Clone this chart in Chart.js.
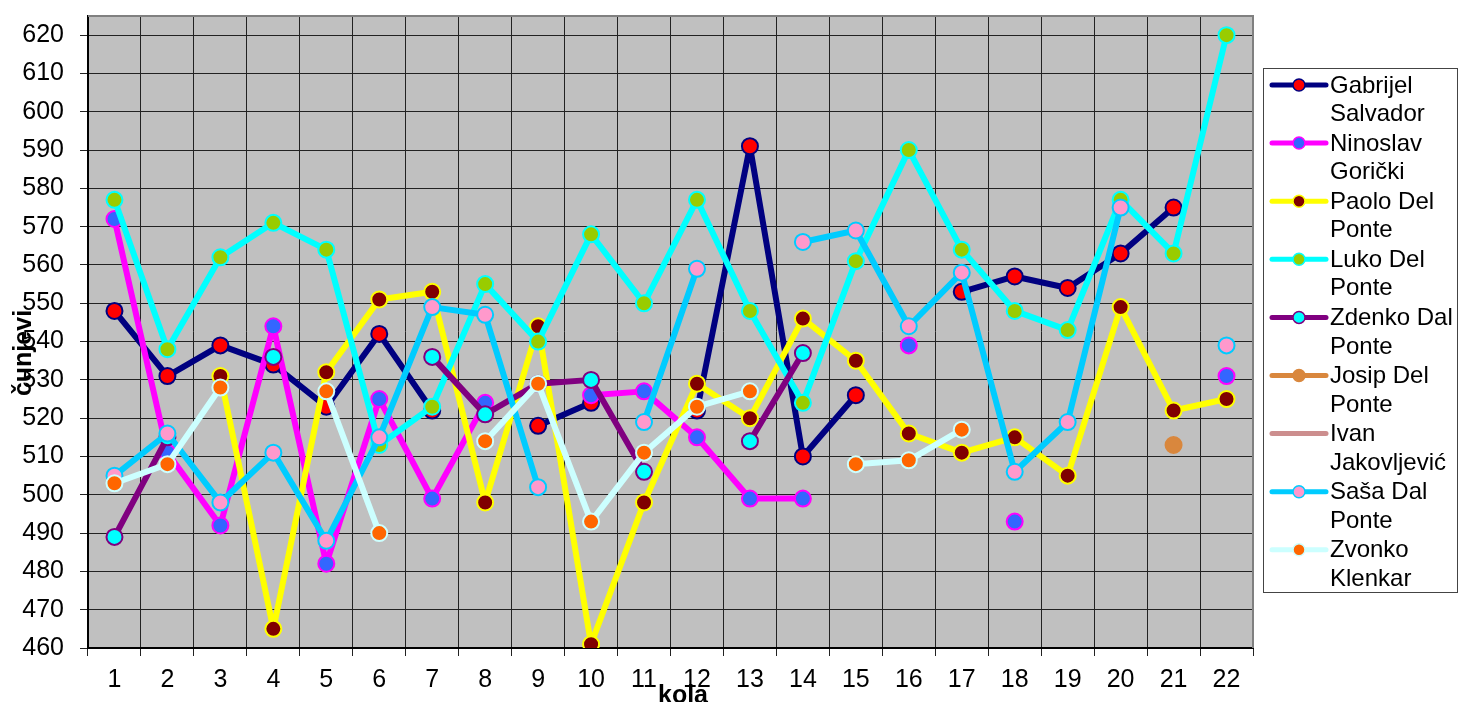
<!DOCTYPE html>
<html>
<head>
<meta charset="utf-8">
<script src="https://cdn.jsdelivr.net/npm/chart.js@4/dist/chart.umd.min.js"></script>
<style>
    html, body { margin: 0; padding: 0; background: #fff; }
    #wrap { width: 1459px; height: 702px; position: relative; }
</style>
</head>
<body>
<div id="wrap"><canvas id="kuglanjeChart"></canvas></div>
<script>
// Podaci po kolima
const kola = ['1','2','3','4','5','6','7','8','9','10','11','12','13','14','15','16','17','18','19','20','21','22'];
const igraci = ['Gabrijel Salvador', 'Ninoslav Gorički', 'Paolo Del Ponte', 'Luko Del Ponte', 'Zdenko Dal Ponte',
    'Josip Del Ponte', 'Ivan Jakovljević', 'Saša Dal Ponte', 'Zvonko Klenkar'];

const gabrijel = [548, 531, 539, 534, 523, 542, 522, null, 518, 524, null, 522, 591, 510, 526, null, 553, 557, 554, 563, 575, null];
const ninoslav = [572, 511, 492, 544, 482, 525, 499, 524, null, 526, 527, 515, 499, 499, null, 539, null, 493, null, null, null, 531];
const paolo = [null, null, 531, 465, 532, 551, 553, 498, 544, 461, 498, 529, 520, 546, 535, 516, 511, 515, 505, 549, 522, 525];
const luko = [577, 538, 562, 571, 564, 513, 523, 555, 540, 568, 550, 577, 548, 524, 561, 590, 564, 548, 543, 577, 563, 620];
const zdenko = [489, 515, null, 536, null, null, 536, 521, 529, 530, 506, null, 514, 537, null, null, null, null, null, null, null, null];
const josip = [null, null, null, null, null, null, null, null, null, null, null, null, null, null, null, null, null, null, null, null, 513, null];
const ivan = [null, null, null, null, null, null, null, null, null, null, null, null, null, null, null, null, null, null, null, null, null, null];
const sasa = [505, 516, 498, 511, 488, 515, 549, 547, 502, null, 519, 559, null, 566, 569, 544, 558, 506, 519, 575, null, 539];
const zvonko = [503, 508, 528, null, 527, 490, null, 514, 529, 493, 511, 523, 527, null, 508, 509, 517, null, null, null, null, null];

const yTicks = [460, 470, 480, 490, 500, 510, 520, 530, 540, 550, 560, 570, 580, 590, 600, 610, 620];

const serije = [gabrijel, ninoslav, paolo, luko, zdenko, josip, ivan, sasa, zvonko];
const bojeLinija = ['#000080', '#FF00FF', '#FFFF00', '#00FFFF', '#800080', '#D9873D', '#CC8E8E', '#00CCFF', '#CCFFFF'];
const bojeTocaka = ['#FF0000', '#3366FF', '#800000', '#99CC00', '#00FFFF', '#D9873D', '#CC8E8E', '#FF99CC', '#FF6600'];

const FONT = "'Liberation Sans', Arial, sans-serif";

// Siva pozadina i okvir grafa
const pozadina = {
    id: 'pozadina',
    beforeDraw(chart) {
        const ctx = chart.ctx;
        const a = chart.chartArea;
        ctx.save();
        ctx.fillStyle = '#fff';
        ctx.fillRect(0, 0, chart.width, chart.height);
        ctx.fillStyle = '#C0C0C0';
        ctx.fillRect(a.left, a.top, a.right - a.left, a.bottom - a.top);
        ctx.restore();
    },
    afterDatasetsDraw(chart) {
        const ctx = chart.ctx;
        const a = chart.chartArea;
        ctx.save();
        ctx.strokeStyle = '#808080';
        ctx.lineWidth = 2;
        ctx.beginPath();
        ctx.moveTo(a.left, a.top);
        ctx.lineTo(a.right, a.top);
        ctx.lineTo(a.right, a.bottom);
        ctx.stroke();
        ctx.restore();
    }
};

// Naslovi osi (preklapaju oznake kao u originalu)
const nasloviOsi = {
    id: 'nasloviOsi',
    afterDraw(chart) {
        const ctx = chart.ctx;
        ctx.save();
        ctx.fillStyle = '#000';
        ctx.font = 'bold 25px ' + FONT;
        ctx.textAlign = 'center';
        ctx.textBaseline = 'alphabetic';
        ctx.fillText('kola', 683, 703);
        ctx.translate(31, 353);
        ctx.rotate(-Math.PI / 2);
        ctx.fillText('čunjevi', 0, 0);
        ctx.restore();
    }
};

// Legenda s desne strane, imena u dva reda
const legenda = {
    id: 'legenda',
    afterDraw(chart) {
        const ctx = chart.ctx;
        ctx.save();
        ctx.strokeStyle = '#444';
        ctx.lineWidth = 1;
        ctx.strokeRect(1263.5, 68.5, 194, 524);
        ctx.font = '24px ' + FONT;
        ctx.textBaseline = 'middle';
        ctx.textAlign = 'left';
        chart.data.datasets.forEach((ds, i) => {
            const y = 85 + i * 58.1;
            ctx.strokeStyle = ds.borderColor;
            ctx.lineWidth = 5;
            ctx.lineCap = 'round';
            ctx.beginPath();
            ctx.moveTo(1272, y);
            ctx.lineTo(1326, y);
            ctx.stroke();
            if (ds.label !== 'Ivan Jakovljević') {
                ctx.fillStyle = ds.pointBackgroundColor;
                ctx.strokeStyle = ds.pointBorderColor;
                ctx.lineWidth = 1.5;
                ctx.beginPath();
                ctx.arc(1299, y, 6, 0, Math.PI * 2);
                ctx.fill();
                ctx.stroke();
            }
            // prelamanje teksta
            const rijeci = ds.label.split(' ');
            const redovi = [];
            let red = '';
            rijeci.forEach(r => {
                const probni = red ? red + ' ' + r : r;
                if (red && ctx.measureText(probni).width > 136) {
                    redovi.push(red);
                    red = r;
                } else {
                    red = probni;
                }
            });
            redovi.push(red);
            ctx.fillStyle = '#000';
            redovi.forEach((t, j) => ctx.fillText(t, 1330, y + 1 + j * 28.5));
        });
        ctx.restore();
    }
};

const datasets = serije.map((podaci, i) => ({
    label: igraci[i],
    data: podaci,
    borderColor: bojeLinija[i],
    backgroundColor: bojeLinija[i],
    borderWidth: 6,
    borderJoinStyle: 'round',
    borderCapStyle: 'round',
    pointRadius: 8,
    pointHoverRadius: 8,
    pointBorderWidth: 2,
    pointBackgroundColor: bojeTocaka[i],
    pointBorderColor: bojeLinija[i],
    spanGaps: false,
    tension: 0,
    order: serije.length - i
}));

const ctx = document.getElementById('kuglanjeChart').getContext('2d');
new Chart(ctx, {
    type: 'line',
    data: {
        labels: kola,
        datasets: datasets
    },
    options: {
        responsive: true,
        maintainAspectRatio: false,
        animation: false,
        layout: {
            padding: { top: 16, right: 206, bottom: 0, left: 0 }
        },
        plugins: {
            legend: { display: false },
            tooltip: { enabled: false },
            title: { display: false }
        },
        scales: {
            x: {
                offset: true,
                grid: {
                    offset: true,
                    color: '#222',
                    lineWidth: 1,
                    tickLength: 8
                },
                border: { color: '#000', width: 2 },
                ticks: {
                    color: '#000',
                    padding: 9,
                    maxRotation: 0,
                    autoSkip: false,
                    font: { size: 25, family: FONT }
                },
                afterFit(scale) {
                    scale.height = 54;
                    scale.paddingLeft = 0;
                    scale.paddingRight = 0;
                }
            },
            y: {
                min: 460,
                max: 625,
                grid: {
                    color: '#222',
                    lineWidth: 1,
                    tickLength: 8
                },
                border: { color: '#000', width: 2 },
                ticks: {
                    stepSize: 10,
                    color: '#000',
                    padding: 16,
                    font: { size: 25, family: FONT }
                },
                afterBuildTicks(scale) {
                    scale.ticks = yTicks.map(v => ({ value: v }));
                },
                afterFit(scale) {
                    scale.width = 88;
                    scale.paddingTop = 0;
                    scale.paddingBottom = 0;
                }
            }
        }
    },
    plugins: [pozadina, nasloviOsi, legenda]
});
</script>
</body>
</html>
